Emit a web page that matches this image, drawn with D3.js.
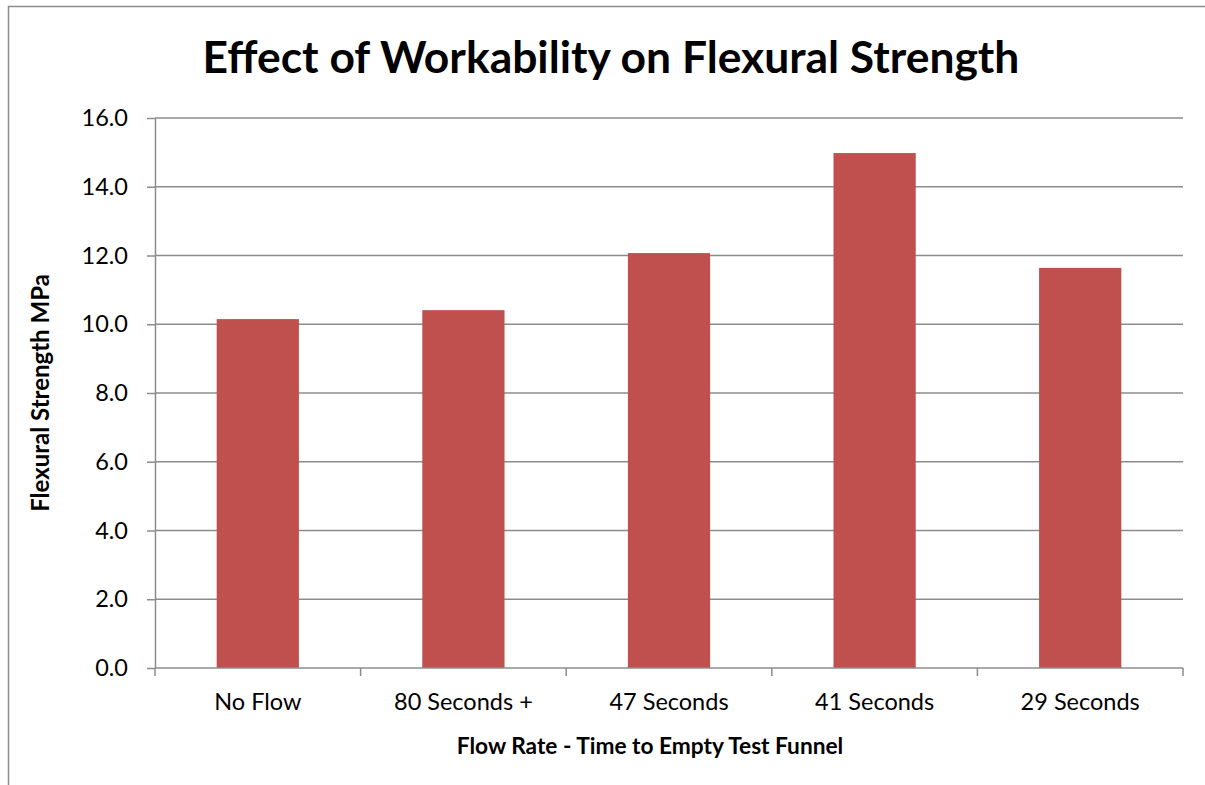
<!DOCTYPE html>
<html><head><meta charset="utf-8">
<script src="https://cdn.jsdelivr.net/npm/d3@7"></script>
<style>html,body{margin:0;background:#fff;overflow:hidden;} svg{display:block;} text{font-family:Lato,"Open Sans",sans-serif;}</style>
</head><body>
<svg id="c" width="1205" height="785"></svg>
<script>
const categories = ["No Flow","80 Seconds +","47 Seconds","41 Seconds","29 Seconds"];
const values = [10.15, 10.41, 12.07, 14.98, 11.64];
const yTicks = [0,2,4,6,8,10,12,14,16];
const title = "Effect of Workability on Flexural Strength";
const xTitle = "Flow Rate - Time to Empty Test Funnel";
const yTitle = "Flexural Strength MPa";

const svg = d3.select("#c");
const L = 155, R = 1183, T = 118, B = 668;
svg.append("path").attr("d","M8.5,785 V6.5 H1205").attr("fill","none").attr("stroke","#8c8c8c").attr("stroke-width",1.5);

const x = d3.scaleBand().domain(categories).range([L,R]).paddingInner(0.6).paddingOuter(0.3);
const y = d3.scaleLinear().domain([0,16]).range([B,T]);

// gridlines
svg.append("g").selectAll("line").data(yTicks.filter(d=>d>0)).join("line")
  .attr("x1",L).attr("x2",R).attr("y1",d=>y(d)).attr("y2",d=>y(d))
  .attr("stroke","#8c8c8c").attr("stroke-width",1.5);

// bars
svg.append("g").selectAll("rect").data(values).join("rect")
  .attr("x",(d,i)=>x(categories[i])).attr("width",x.bandwidth())
  .attr("y",d=>y(d)).attr("height",d=>B-y(d)).attr("fill","#c0504d");

// y axis
const ya = svg.append("g").attr("transform",`translate(${L},0)`)
  .call(d3.axisLeft(y).tickValues(yTicks).tickFormat(d3.format(".1f")).tickSize(8).tickSizeOuter(0).tickPadding(19));
ya.select(".domain").attr("stroke","#8c8c8c").attr("stroke-width",1.5);
ya.selectAll(".tick line").attr("stroke","#8c8c8c").attr("stroke-width",1.5);
ya.selectAll("text").attr("font-size",23.5).attr("fill","#000").style("font-family","Lato");

// x axis
const xb = d3.scaleLinear().domain([0,5]).range([L,R]);
const xa = svg.append("g").attr("transform",`translate(0,${B})`);
xa.append("line").attr("x1",L).attr("x2",R).attr("stroke","#8c8c8c").attr("stroke-width",1.5);
xa.selectAll("line.t").data(d3.range(6)).join("line").attr("class","t")
  .attr("x1",d=>xb(d)).attr("x2",d=>xb(d)).attr("y1",0).attr("y2",8)
  .attr("stroke","#8c8c8c").attr("stroke-width",1.5);
xa.selectAll("text").data(categories).join("text")
  .attr("x",d=>x(d)+x.bandwidth()/2).attr("y",42).attr("text-anchor","middle")
  .attr("font-size",23.5).text(d=>d);

svg.append("text").attr("x",611).attr("y",73).attr("text-anchor","middle")
  .attr("font-size",44.4).attr("font-weight","bold").text(title);
svg.append("text").attr("x",650).attr("y",754).attr("text-anchor","middle")
  .attr("font-size",22.7).attr("font-weight","bold").text(xTitle);
svg.append("text").attr("transform","translate(49,393) rotate(-90)").attr("text-anchor","middle")
  .attr("font-size",24).attr("font-weight","bold").text(yTitle);
</script>
</body></html>
